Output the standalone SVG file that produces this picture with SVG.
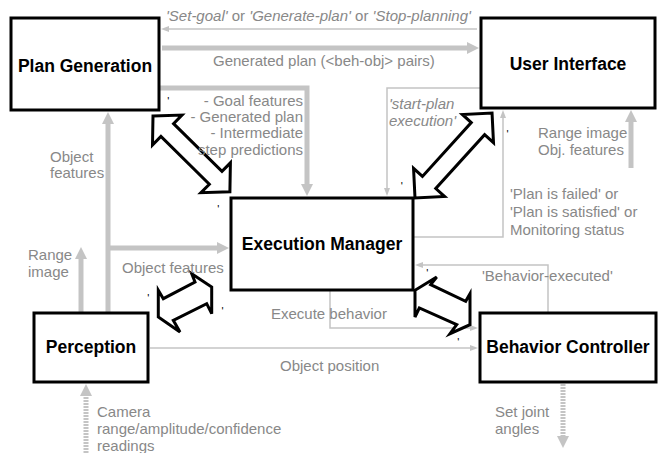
<svg xmlns="http://www.w3.org/2000/svg" width="659" height="453" viewBox="0 0 659 453">
<style>
.box{fill:#fff;stroke:#000;stroke-width:3}
.title{font-family:"Liberation Sans",Arial,sans-serif;font-weight:bold;font-size:17.5px;fill:#000;text-anchor:middle}
.lbl{font-family:"Liberation Sans",Arial,sans-serif;font-size:15px;fill:#888}
.it{font-style:italic}
.thin{fill:none;stroke:#c4c4c4;stroke-width:1.5;marker-end:url(#ah)}
.thick{fill:none;stroke:#c4c4c4;stroke-width:5;marker-end:url(#AH)}
.dash{fill:none;stroke:#c4c4c4;stroke-width:5;stroke-dasharray:2 1;marker-end:url(#AH)}
.dbl{fill:#fff;stroke:#000;stroke-width:3;stroke-linejoin:miter}
.tick{font-family:"Liberation Sans",Arial,sans-serif;font-size:11px;fill:#000;text-anchor:middle}
</style>
<defs>
<marker id="ah" markerUnits="userSpaceOnUse" markerWidth="8" markerHeight="6" refX="2" refY="3" orient="auto"><path d="M0,0 L8,3 L0,6 z" fill="#c4c4c4"/></marker>
<marker id="AH" markerUnits="userSpaceOnUse" markerWidth="12" markerHeight="12" refX="3" refY="6" orient="auto"><path d="M0,0 L12,6 L0,12 z" fill="#c4c4c4"/></marker>
</defs>
<g id="connectors">
<path class="thin" d="M477,29 H167"/>
<path class="thick" d="M162,48 H470"/>
<path class="thick" d="M160,88 H307 V187"/>
<path class="thin" d="M480,88 H387 V190"/>
<path class="thin" d="M413,237 H503 V116"/>
<path class="thick" d="M631,168 V119"/>
<path class="thick" d="M108,313 V121"/>
<path class="thick" d="M108,248 H220"/>
<path class="thick" d="M81,313 V256"/>
<path class="thin" d="M548,313 V265 H421"/>
<path class="thin" d="M330,290 V328 H472"/>
<path class="thin" d="M150,348 H472"/>
<path class="dash" d="M86,453 V393"/>
<path class="dash" d="M563,384 V439"/>
<polygon class="dbl" transform="translate(153,116) rotate(44.6)" points="0,0 20,-21 20,-9 88,-9 88,-21 108,0 88,21 88,9 20,9 20,21"/>
<polygon class="dbl" transform="translate(415,198) rotate(-47.8)" points="0,0 21,-21 21,-9 93.7,-9 93.7,-21 114.7,0 93.7,21 93.7,9 21,9 21,21"/>
<polygon class="dbl" points="191.7,273.7 211.7,287 211.7,313.7 206.7,303.7 173.3,320.3 180,332 158.3,317 158.3,290.3 163.3,298.7 195,282"/>
<polygon class="dbl" points="436.7,277 415,290.3 415,317 419.3,308 456.7,324.7 450,333.7 470,324.7 470,293.7 465.7,301.3 430.7,284.7"/>
</g>
<g id="labels">
<text class="lbl" x="166" y="21"><tspan class="it">'Set-goal'</tspan> or <tspan class="it">'Generate-plan'</tspan> or <tspan class="it">'Stop-planning'</tspan></text>
<text class="lbl" x="213" y="66">Generated plan (&lt;beh-obj&gt; pairs)</text>
<text class="lbl" x="303" y="106" text-anchor="end">- Goal features</text>
<text class="lbl" x="303" y="122" text-anchor="end">- Generated plan</text>
<text class="lbl" x="303" y="138" text-anchor="end">- Intermediate</text>
<text class="lbl" x="303" y="155" text-anchor="end">step predictions</text>
<text class="lbl it" x="389" y="109">'start-plan</text>
<text class="lbl it" x="389" y="126">execution'</text>
<text class="lbl" x="538" y="138">Range image</text>
<text class="lbl" x="538" y="155">Obj. features</text>
<text class="lbl" x="50" y="162">Object</text>
<text class="lbl" x="50" y="178">features</text>
<text class="lbl" x="510" y="199">'Plan is failed' or</text>
<text class="lbl" x="510" y="217">'Plan is satisfied' or</text>
<text class="lbl" x="510" y="235">Monitoring status</text>
<text class="lbl" x="28" y="260">Range</text>
<text class="lbl" x="28" y="277">image</text>
<text class="lbl" x="122" y="273">Object features</text>
<text class="lbl" x="482" y="281">'Behavior-executed'</text>
<text class="lbl" x="271" y="319">Execute behavior</text>
<text class="lbl" x="280" y="371">Object position</text>
<text class="lbl" x="97" y="417">Camera</text>
<text class="lbl" x="97" y="434">range/amplitude/confidence</text>
<text class="lbl" x="97" y="451">readings</text>
<text class="lbl" x="495" y="417">Set joint</text>
<text class="lbl" x="495" y="434">angles</text>
<text class="tick" x="168.3" y="105">'</text>
<text class="tick" x="218.3" y="213">'</text>
<text class="tick" x="401.7" y="190">'</text>
<text class="tick" x="507.5" y="138">'</text>
<text class="tick" x="148.3" y="302">'</text>
<text class="tick" x="222.5" y="315">'</text>
<text class="tick" x="427.3" y="277">'</text>
<text class="tick" x="458.3" y="346">'</text>
</g>
<g id="plan-generation"><rect class="box" x="11" y="18" width="148" height="92"/><text class="title" x="85" y="72">Plan Generation</text></g>
<g id="user-interface"><rect class="box" x="481" y="18" width="174" height="90"/><text class="title" x="568" y="70">User Interface</text></g>
<g id="execution-manager"><rect class="box" x="231" y="198" width="182" height="92"/><text class="title" x="322" y="250">Execution Manager</text></g>
<g id="perception"><rect class="box" x="34" y="313" width="114" height="69"/><text class="title" x="91" y="353">Perception</text></g>
<g id="behavior-controller"><rect class="box" x="480" y="313" width="176" height="69"/><text class="title" x="568" y="353">Behavior Controller</text></g>
</svg>
